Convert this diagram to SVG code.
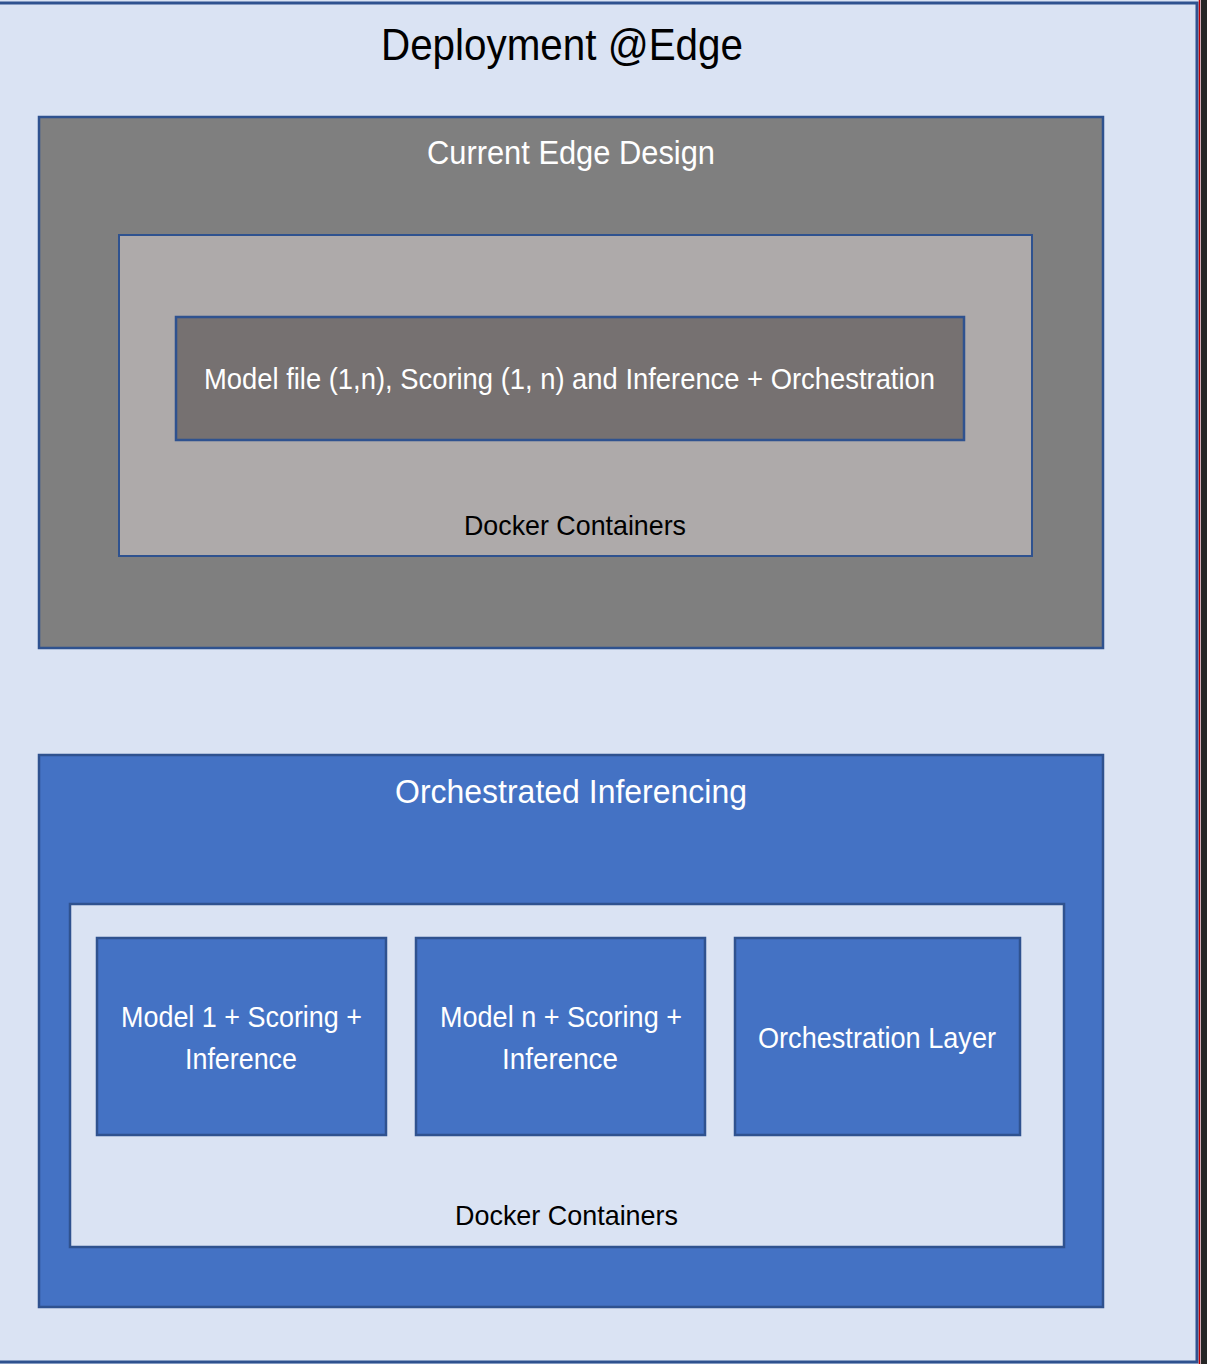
<svg xmlns="http://www.w3.org/2000/svg" width="1207" height="1364" viewBox="0 0 1207 1364">
<style>
text{font-family:"Liberation Sans","Open Sans",Arial,sans-serif;text-anchor:start}
.w{fill:#ffffff}
.k{fill:#000000}
.bd{stroke:#2F528F;stroke-width:2.5}
</style>
<rect x="0" y="0" width="1207" height="1364" fill="#DAE3F3"/>
<g id="frame">
<rect x="-5" y="3" width="1202" height="1359" fill="#DAE3F3" stroke="#2F528F" stroke-width="3"/>
<line x1="1199.5" y1="0" x2="1199.5" y2="1364" stroke="#C00000" stroke-width="1.5"/>
<rect x="1201" y="0" width="6" height="1364" fill="#262626"/>
<text x="381" y="60" font-size="44" textLength="362" lengthAdjust="spacingAndGlyphs" class="k">Deployment @Edge</text>
</g>
<g id="current-edge-design">
<rect x="39" y="117" width="1064" height="531" fill="#7F7F7F" class="bd"/>
<text x="427" y="164" font-size="33" textLength="288" lengthAdjust="spacingAndGlyphs" class="w">Current Edge Design</text>
</g>
<g id="docker-containers-1">
<rect x="119" y="235" width="913" height="321" fill="#AEAAAA" stroke="#2F528F" stroke-width="2"/>
<text x="464" y="535" font-size="28" textLength="222" lengthAdjust="spacingAndGlyphs" class="k">Docker Containers</text>
</g>
<g id="model-file">
<rect x="176" y="317" width="788" height="123" fill="#767171" class="bd"/>
<text x="204" y="389" font-size="30" textLength="731" lengthAdjust="spacingAndGlyphs" class="w">Model file (1,n), Scoring (1, n) and Inference + Orchestration</text>
</g>
<g id="orchestrated-inferencing">
<rect x="39" y="755" width="1064" height="552" fill="#4472C4" class="bd"/>
<text x="395" y="803" font-size="33" textLength="352" lengthAdjust="spacingAndGlyphs" class="w">Orchestrated Inferencing</text>
</g>
<g id="docker-containers-2">
<rect x="70" y="904" width="994" height="343" fill="#DAE3F3" class="bd"/>
<text x="455" y="1225" font-size="28" textLength="223" lengthAdjust="spacingAndGlyphs" class="k">Docker Containers</text>
</g>
<g id="model-1">
<rect x="97" y="938" width="289" height="197" fill="#4472C4" class="bd"/>
<text x="121" y="1027" font-size="30" textLength="241" lengthAdjust="spacingAndGlyphs" class="w">Model 1 + Scoring +</text>
<text x="185" y="1069" font-size="30" textLength="112" lengthAdjust="spacingAndGlyphs" class="w">Inference</text>
</g>
<g id="model-n">
<rect x="416" y="938" width="289" height="197" fill="#4472C4" class="bd"/>
<text x="440" y="1027" font-size="30" textLength="242" lengthAdjust="spacingAndGlyphs" class="w">Model n + Scoring +</text>
<text x="502" y="1069" font-size="30" textLength="116" lengthAdjust="spacingAndGlyphs" class="w">Inference</text>
</g>
<g id="orchestration-layer">
<rect x="735" y="938" width="285" height="197" fill="#4472C4" class="bd"/>
<text x="758" y="1048" font-size="30" textLength="238" lengthAdjust="spacingAndGlyphs" class="w">Orchestration Layer</text>
</g>
<g id="connectors"/>
</svg>
